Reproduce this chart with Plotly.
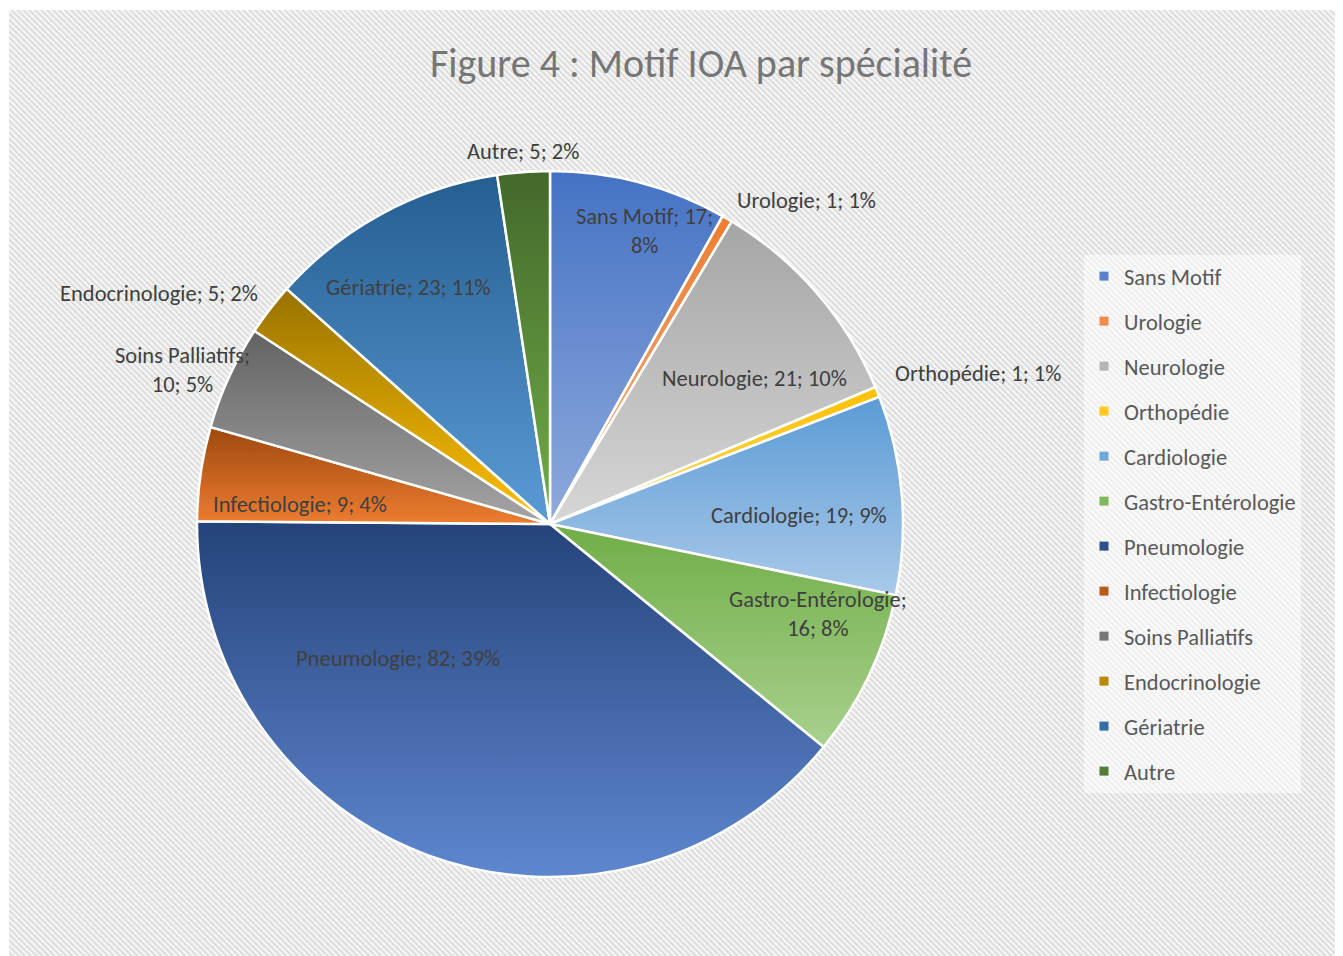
import base64
import plotly.graph_objects as go

# ---- data ----
categories = ["Sans Motif", "Urologie", "Neurologie", "Orthopédie", "Cardiologie",
              "Gastro-Entérologie", "Pneumologie", "Infectiologie", "Soins Palliatifs",
              "Endocrinologie", "Gériatrie", "Autre"]
values = [17, 1, 21, 1, 19, 16, 82, 9, 10, 5, 23, 5]
percent_labels = [8, 1, 10, 1, 9, 8, 39, 4, 5, 2, 11, 2]
title_text = "Figure 4 : Motif IOA par spécialité"

# ---- styles ----
W, H = 1343, 956
FONT = "Carlito, Calibri, Lato, sans-serif"
LBL = 22.5
grad_top = ["#4472C4", "#ED7D31", "#A5A5A5", "#FFC000", "#5B9BD5", "#70AD47",
            "#25437A", "#9E480E", "#636363", "#997300", "#255E91", "#43682B"]
grad_bot = ["#8FAADC", "#F4B183", "#D6D6D6", "#FFD966", "#A9C9E9", "#A9D18E",
            "#5E87CF", "#ED7D31", "#A5A5A5", "#FFC000", "#5B9BD5", "#70AD47"]
flat = ["#6A8DD0", "#F09A5A", "#BEBEBE", "#FFCD33", "#82B2DF", "#8DC06B",
        "#3F62A4", "#C6631F", "#848484", "#CC9A00", "#407DB3", "#5A8B3A"]
legend_sw = ["#5A80CC", "#F08C48", "#B5B5B5", "#FFC81A", "#70A8DA", "#80B85A",
             "#2F4F8C", "#B85A1A", "#777777", "#B88A00", "#336FA6", "#517D35"]
# label centres in pixels and line-break position (0 = single line)
label_px = [(644, 231), (806, 200), (754, 378), (978, 373), (799, 515), (818, 614),
            (398, 658), (300, 504), (182, 370), (159, 293), (408, 287), (523, 152)]
wrap_after = [2, 0, 0, 0, 0, 1, 0, 0, 1, 0, 0, 0]

# hatch background as an SVG image
svg = (f"<svg xmlns='http://www.w3.org/2000/svg' width='{W}' height='{H}'>"
       "<defs><pattern id='p' width='4.2' height='10' patternUnits='userSpaceOnUse' "
       "patternTransform='rotate(-45)'>"
       "<rect width='4.2' height='10' fill='#f6f6f6'/>"
       "<rect width='2.0' height='10' fill='#dcdcdc'/></pattern></defs>"
       f"<rect width='{W}' height='{H}' fill='#ffffff'/>"
       f"<rect x='9' y='10' width='{1335-9}' height='{H-10}' fill='url(#p)'/>"
       "</svg>")
svg_uri = "data:image/svg+xml;base64," + base64.b64encode(svg.encode()).decode()

fig = go.Figure()
fig.add_trace(go.Pie(
    labels=categories, values=values, sort=False, direction="clockwise", rotation=0,
    textinfo="none", hoverinfo="none", showlegend=False,
    marker=dict(colors=flat, line=dict(color="white", width=2.5)),
    domain=dict(x=[197 / W, 903 / W], y=[79 / H, 785 / H]),
))

# legend entries (one per category, so spacing can match the reference)
for i, c in enumerate(categories):
    fig.add_trace(go.Scatter(
        x=[None], y=[None], mode="markers", name=c, legendgroup=c,
        marker=dict(symbol="square", size=9, color=legend_sw[i]),
        showlegend=True, hoverinfo="skip",
    ))

annotations = []
for i, c in enumerate(categories):
    parts = [c, str(values[i]), f"{percent_labels[i]}%"]
    if wrap_after[i]:
        txt = "; ".join(parts[:wrap_after[i]]) + ";<br>" + "; ".join(parts[wrap_after[i]:])
    else:
        txt = "; ".join(parts)
    px, py = label_px[i]
    annotations.append(dict(
        x=px / W, y=1 - py / H, xref="paper", yref="paper", text=txt, showarrow=False,
        xanchor="center", yanchor="middle", align="center",
        font=dict(family=FONT, size=LBL, color="#404040"),
    ))

fig.update_layout(
    width=W, height=H,
    margin=dict(l=0, r=0, t=0, b=0),
    paper_bgcolor="white", plot_bgcolor="rgba(0,0,0,0)",
    xaxis=dict(visible=False), yaxis=dict(visible=False),
    title=dict(text=title_text, x=701 / W, xanchor="center", y=1 - 63 / H, yanchor="middle",
               font=dict(family=FONT, size=40, color="#767676")),
    images=[dict(source=svg_uri, xref="paper", yref="paper", x=0, y=1, sizex=1, sizey=1,
                 xanchor="left", yanchor="top", sizing="stretch", layer="below")],
    legend=dict(x=1084 / W, y=1 - 255 / H, xanchor="left", yanchor="top",
                traceorder="grouped", tracegroupgap=12.75,
                bgcolor="rgba(255,255,255,0.5)",
                font=dict(family=FONT, size=LBL, color="#595959")),
    annotations=annotations,
)

grads = ",".join(f"['{a}','{b}']" for a, b in zip(grad_top, grad_bot))
post = """
document.body.style.margin='0';
var gd=document.getElementById('{plot_id}');
var svg=gd.querySelector('svg.main-svg');
var ns='http://www.w3.org/2000/svg';
var defs=svg.querySelector('defs');
if(!defs){defs=document.createElementNS(ns,'defs');svg.insertBefore(defs,svg.firstChild);}
var grads=[GRADS];
var paths=gd.querySelectorAll('g.slice path.surface');
paths.forEach(function(p,i){
  if(!grads[i])return;
  var g=document.createElementNS(ns,'linearGradient');
  g.setAttribute('id','sg'+i);g.setAttribute('x1','0');g.setAttribute('y1','0');
  g.setAttribute('x2','0');g.setAttribute('y2','1');
  [[0,grads[i][0]],[1,grads[i][1]]].forEach(function(s){
    var st=document.createElementNS(ns,'stop');
    st.setAttribute('offset',s[0]);st.setAttribute('stop-color',s[1]);g.appendChild(st);});
  defs.appendChild(g);
  p.style.fill='url(#sg'+i+')';
});
""".replace("GRADS", grads)

fig.write_html("out.html", post_script=post, config={"displayModeBar": False})
